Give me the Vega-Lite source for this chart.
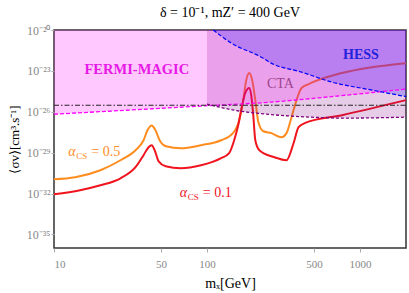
{
  "$schema": "https://vega.github.io/schema/vega-lite/v6.json",
  "width": 352,
  "height": 218,
  "autosize": "none",
  "padding": {"left": 54, "top": 30, "right": 3, "bottom": 45},
  "config": {
    "font": "Liberation Serif",
    "view": {"stroke": "#333333", "strokeWidth": 1.5},
    "axis": {"grid": false, "domain": false, "zindex": 1}
  },
  "title": {"text": "δ = 10⁻¹, mZ′ = 400 GeV", "fontSize": 14, "fontWeight": "normal", "font": "Liberation Serif", "color": "#000000", "offset": 4, "anchor": "middle"},
  "datasets": {
    "curves": [
      {"mX": 10, "sv": 1.1e-31, "model": "0.5"},
      {"mX": 13.75, "sv": 1.55e-31, "model": "0.5"},
      {"mX": 20.1, "sv": 5.1e-31, "model": "0.5"},
      {"mX": 27.2, "sv": 2.75e-30, "model": "0.5"},
      {"mX": 34.1, "sv": 1.5e-29, "model": "0.5"},
      {"mX": 38.5, "sv": 8.1e-29, "model": "0.5"},
      {"mX": 40.9, "sv": 4.5e-28, "model": "0.5"},
      {"mX": 43.5, "sv": 1.0e-27, "model": "0.5"},
      {"mX": 46, "sv": 4.5e-28, "model": "0.5"},
      {"mX": 49, "sv": 8.1e-29, "model": "0.5"},
      {"mX": 54, "sv": 2.95e-29, "model": "0.5"},
      {"mX": 67.4, "sv": 2.1e-29, "model": "0.5"},
      {"mX": 91.4, "sv": 3.5e-29, "model": "0.5"},
      {"mX": 123.7, "sv": 8.1e-29, "model": "0.5"},
      {"mX": 148, "sv": 2.7e-28, "model": "0.5"},
      {"mX": 162.4, "sv": 2.4e-27, "model": "0.5"},
      {"mX": 172.6, "sv": 7.1e-26, "model": "0.5"},
      {"mX": 180.6, "sv": 2.1e-24, "model": "0.5"},
      {"mX": 188.9, "sv": 6.9e-24, "model": "0.5"},
      {"mX": 197.5, "sv": 2.1e-24, "model": "0.5"},
      {"mX": 207, "sv": 7.1e-26, "model": "0.5"},
      {"mX": 216.6, "sv": 1.74e-27, "model": "0.5"},
      {"mX": 233.5, "sv": 3.7e-28, "model": "0.5"},
      {"mX": 263.6, "sv": 2.7e-28, "model": "0.5"},
      {"mX": 306.9, "sv": 1.35e-28, "model": "0.5"},
      {"mX": 331, "sv": 2.7e-28, "model": "0.5"},
      {"mX": 357, "sv": 4.0e-27, "model": "0.5"},
      {"mX": 385, "sv": 7.1e-26, "model": "0.5"},
      {"mX": 415, "sv": 5.5e-25, "model": "0.5"},
      {"mX": 462, "sv": 1.07e-24, "model": "0.5"},
      {"mX": 762, "sv": 6.9e-24, "model": "0.5"},
      {"mX": 2000, "sv": 3.7e-23, "model": "0.5"},
      {"mX": 10, "sv": 8.7e-33, "model": "0.1"},
      {"mX": 14.8, "sv": 1.74e-32, "model": "0.1"},
      {"mX": 20.1, "sv": 4.0e-32, "model": "0.1"},
      {"mX": 27.2, "sv": 1.3e-31, "model": "0.1"},
      {"mX": 34.1, "sv": 8.5e-31, "model": "0.1"},
      {"mX": 38.5, "sv": 6.5e-30, "model": "0.1"},
      {"mX": 41.5, "sv": 2.5e-29, "model": "0.1"},
      {"mX": 43.5, "sv": 3.5e-29, "model": "0.1"},
      {"mX": 45.5, "sv": 1.5e-29, "model": "0.1"},
      {"mX": 48.3, "sv": 2.3e-30, "model": "0.1"},
      {"mX": 53.7, "sv": 1.0e-30, "model": "0.1"},
      {"mX": 67.4, "sv": 7.1e-31, "model": "0.1"},
      {"mX": 91.4, "sv": 1.17e-30, "model": "0.1"},
      {"mX": 123.7, "sv": 3.9e-30, "model": "0.1"},
      {"mX": 139.6, "sv": 9.1e-30, "model": "0.1"},
      {"mX": 150.6, "sv": 8.1e-29, "model": "0.1"},
      {"mX": 160, "sv": 1.02e-27, "model": "0.1"},
      {"mX": 170, "sv": 3.1e-26, "model": "0.1"},
      {"mX": 177.8, "sv": 2.3e-25, "model": "0.1"},
      {"mX": 188.9, "sv": 5.5e-25, "model": "0.1"},
      {"mX": 194.6, "sv": 1.66e-25, "model": "0.1"},
      {"mX": 200.7, "sv": 5.6e-27, "model": "0.1"},
      {"mX": 207, "sv": 8.1e-29, "model": "0.1"},
      {"mX": 220, "sv": 1.5e-29, "model": "0.1"},
      {"mX": 276, "sv": 4.6e-30, "model": "0.1"},
      {"mX": 331, "sv": 2.75e-30, "model": "0.1"},
      {"mX": 368, "sv": 4.9e-29, "model": "0.1"},
      {"mX": 397, "sv": 7.4e-28, "model": "0.1"},
      {"mX": 435, "sv": 1.45e-27, "model": "0.1"},
      {"mX": 762, "sv": 5.6e-27, "model": "0.1"},
      {"mX": 2000, "sv": 7.1e-26, "model": "0.1"}
    ],
    "cta": [
      {"mX": 100, "sv": 3.6e-26},
      {"mX": 151, "sv": 1.3e-26},
      {"mX": 263, "sv": 6.2e-27},
      {"mX": 483, "sv": 4.0e-27},
      {"mX": 760, "sv": 3.4e-27},
      {"mX": 2000, "sv": 4.0e-27}
    ],
    "fermi": [
      {"mX": 10, "sv": 6.6e-27},
      {"mX": 91, "sv": 2.6e-26},
      {"mX": 263, "sv": 5.1e-26},
      {"mX": 655, "sv": 1.3e-25},
      {"mX": 2000, "sv": 4.6e-25}
    ],
    "hess": [
      {"mX": 110, "sv": 1e-20},
      {"mX": 144, "sv": 1.1e-21},
      {"mX": 227, "sv": 1.0e-22},
      {"mX": 263, "sv": 3.7e-23},
      {"mX": 415, "sv": 8.1e-24},
      {"mX": 655, "sv": 1.5e-24},
      {"mX": 1200, "sv": 3.9e-25},
      {"mX": 2000, "sv": 1.3e-25}
    ],
    "relic": [
      {"mX": 10, "sv": 3e-26},
      {"mX": 2000, "sv": 3e-26}
    ],
    "alphas": [
      {"mX": 12.4, "sv": 1.07e-29, "model": "0.5", "eq": "= 0.5"},
      {"mX": 66.4, "sv": 1.02e-32, "model": "0.1", "eq": "= 0.1"}
    ]
  },
  "encoding": {
    "x": {
      "field": "mX", "type": "quantitative",
      "scale": {"type": "log", "domain": [10, 2000], "nice": false},
      "axis": {"values": [10, 50, 100, 500, 1000], "format": "d", "labelColor": "#888888", "labelFontSize": 11, "labelPadding": 6, "tickColor": "#aaaaaa", "tickSize": 4, "title": "mₓ[GeV]", "titleFontSize": 14, "titleFontWeight": "normal", "titleColor": "#000000", "titlePadding": 7}
    },
    "y": {
      "field": "sv", "type": "quantitative",
      "scale": {"type": "log", "domain": [1e-36, 1e-20], "nice": false},
      "axis": {"values": [1e-35, 1e-32, 1e-29, 1e-26, 1e-23, 1e-20], "labelExpr": "round(log(datum.value)/LN10) == -20 ? '10⁻²⁰' : round(log(datum.value)/LN10) == -23 ? '10⁻²³' : round(log(datum.value)/LN10) == -26 ? '10⁻²⁶' : round(log(datum.value)/LN10) == -29 ? '10⁻²⁹' : round(log(datum.value)/LN10) == -32 ? '10⁻³²' : '10⁻³⁵'", "labelColor": "#888888", "labelFontSize": 12, "labelPadding": 1, "tickColor": "#aaaaaa", "tickSize": 3, "title": "⟨σv⟩[cm³.s⁻¹]", "titleFontSize": 13, "titleFontWeight": "normal", "titleColor": "#000000", "titlePadding": 5}
    }
  },
  "layer": [
    {
      "data": {"name": "curves"},
      "mark": {"type": "line", "strokeWidth": 2, "interpolate": "monotone"},
      "encoding": {
        "color": {"field": "model", "type": "nominal", "scale": {"domain": ["0.5", "0.1"], "range": ["#FF8C1E", "#F0141E"]}, "legend": null},
        "detail": {"field": "model"}
      }
    },
    {
      "data": {"name": "cta"},
      "mark": {"type": "area", "color": "#800080", "opacity": 0.2, "interpolate": "monotone"},
      "encoding": {"y2": {"datum": 1e-20}}
    },
    {
      "data": {"name": "fermi"},
      "mark": {"type": "area", "color": "#FF00FF", "opacity": 0.216, "interpolate": "monotone"},
      "encoding": {"y2": {"datum": 1e-20}}
    },
    {
      "data": {"name": "hess"},
      "mark": {"type": "area", "color": "#0000FF", "opacity": 0.21, "interpolate": "monotone"},
      "encoding": {"y2": {"datum": 1e-20}}
    },
    {
      "data": {"name": "cta"},
      "mark": {"type": "line", "color": "#800080", "strokeWidth": 1.3, "strokeDash": [3, 2], "interpolate": "monotone"},
      "encoding": {}
    },
    {
      "data": {"name": "fermi"},
      "mark": {"type": "line", "color": "#FF00FF", "strokeWidth": 1.3, "strokeDash": [4, 2], "interpolate": "monotone"},
      "encoding": {}
    },
    {
      "data": {"name": "hess"},
      "mark": {"type": "line", "color": "#0000FF", "strokeWidth": 1.2, "strokeDash": [4, 2], "interpolate": "monotone"},
      "encoding": {}
    },
    {
      "data": {"name": "relic"},
      "mark": {"type": "line", "color": "#222222", "strokeWidth": 1, "strokeDash": [5, 2, 1.5, 2]},
      "encoding": {}
    },
    {
      "data": {"values": [{"mX": 34.8, "sv": 1.15e-23, "t": "FERMI-MAGIC"}]},
      "mark": {"type": "text", "fontWeight": "bold", "fontSize": 14.5, "color": "#E619E6", "align": "center", "baseline": "middle"},
      "encoding": {"text": {"field": "t"}}
    },
    {
      "data": {"values": [{"mX": 1016, "sv": 1.45e-22, "t": "HESS"}]},
      "mark": {"type": "text", "fontWeight": "bold", "fontSize": 14, "color": "#2222DD", "align": "center", "baseline": "middle"},
      "encoding": {"text": {"field": "t"}}
    },
    {
      "data": {"values": [{"mX": 302, "sv": 1.07e-24, "t": "CTA"}]},
      "mark": {"type": "text", "fontSize": 14, "color": "#A04590", "align": "center", "baseline": "middle"},
      "encoding": {"text": {"field": "t"}}
    },
    {
      "data": {"name": "alphas"},
      "mark": {"type": "text", "fontSize": 14, "fontStyle": "italic", "align": "left", "baseline": "middle"},
      "encoding": {"text": {"value": "α"}, "color": {"field": "model", "type": "nominal", "legend": null}}
    },
    {
      "data": {"name": "alphas"},
      "mark": {"type": "text", "fontSize": 9, "align": "left", "baseline": "middle", "dx": 8, "dy": 4},
      "encoding": {"text": {"value": "CS"}, "color": {"field": "model", "type": "nominal", "legend": null}}
    },
    {
      "data": {"name": "alphas"},
      "mark": {"type": "text", "fontSize": 14, "align": "left", "baseline": "middle", "dx": 23},
      "encoding": {"text": {"field": "eq"}, "color": {"field": "model", "type": "nominal", "legend": null}}
    }
  ]
}
